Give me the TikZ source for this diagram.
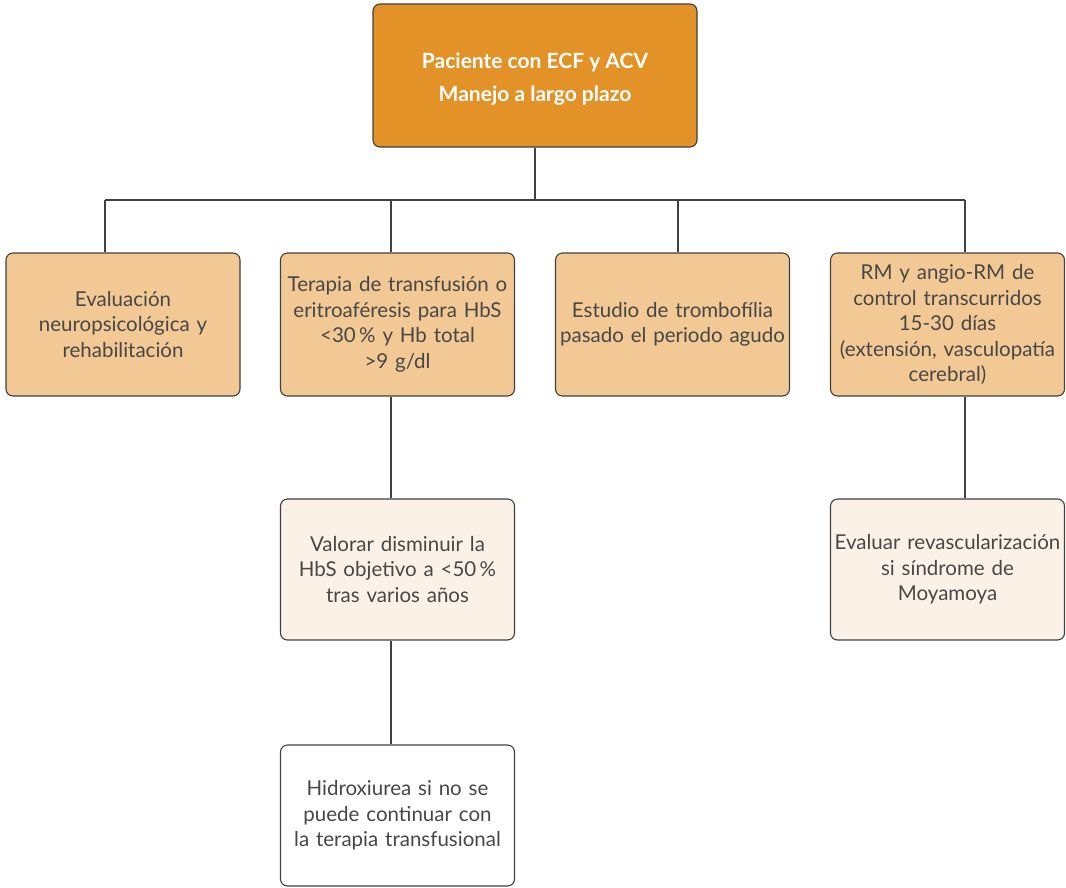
\documentclass[tikz,border=0pt]{standalone}
\usepackage{fontspec}
\setmainfont{Lato}
\begin{document}
\begin{tikzpicture}[x=1pt,y=-1pt,
  boxbase/.style={draw=black!75, line width=1.1pt, rounded corners=7pt, align=center,
    text=black!72, font=\fontsize{20.5}{25.5}\selectfont, inner sep=3pt},
  headbox/.style={boxbase, fill=headorange, minimum width=324pt, minimum height=143pt},
  headtext/.style={text=white, align=center, yshift=-4pt,
    font=\bfseries\fontsize{21}{33}\selectfont},
  lvlone/.style={boxbase, fill=lightorange, minimum width=234pt, minimum height=143pt, text width=228pt},
  lvltwo/.style={boxbase, fill=paleorange, minimum width=234pt, minimum height=141pt, text width=228pt},
  lvlthree/.style={boxbase, fill=white, minimum width=234pt, minimum height=141pt, text width=228pt},
  link/.style={draw=black!75, line width=1.1pt}]
\definecolor{headorange}{HTML}{E29227}
\definecolor{lightorange}{HTML}{F2C994}
\definecolor{paleorange}{HTML}{FCF1E7}
\useasboundingbox (0,0) rectangle (1066,887);

\node[headbox, label={[headtext]center:{Paciente con ECF y ACV\\Manejo a largo plazo}}] (top) at (535,75.5) {};

\node[lvlone] (eval) at (123,324.5) {Evaluación\\neuropsicológica y\\rehabilitación};
\node[lvlone] (trans) at (397.5,324.5) {Terapia de transfusión o\\eritroaféresis para HbS\\<30\,\% y Hb total\\>9 g/dl\\[20pt]};
\node[lvlone] (tromb) at (672.5,324.5) {Estudio de trombofília\\pasado el periodo agudo};
\node[lvlone] (rm) at (947.5,324.5) {RM y angio-RM de\\control transcurridos\\15-30 días\\(extensión, vasculopatía\\cerebral)};

\node[lvltwo] (hbs) at (397.5,569.5) {Valorar disminuir la\\HbS objetivo a <50\,\%\\tras varios años};
\node[lvltwo] (moya) at (947.5,569.5) {Evaluar revascularización\\si síndrome de\\Moyamoya};

\node[lvlthree] (hidrox) at (397.5,815.5) {Hidroxiurea si no se\\puede continuar con\\la terapia transfusional};

% bus below the head box
\coordinate (busl) at (105,200);
\coordinate (busr) at (965,200);
\coordinate (dtwo) at (391,200);
\coordinate (dthree) at (678,200);
\draw[link] (top.south) -- (top.south |- busl);
\draw[link] (busl) -- (busr);
\draw[link] (busl) -- (busl |- eval.north);
\draw[link] (dtwo) -- (dtwo |- trans.north);
\draw[link] (dthree) -- (dthree |- tromb.north);
\draw[link] (busr) -- (busr |- rm.north);

% vertical chains
\draw[link] (dtwo |- trans.south) -- (dtwo |- hbs.north);
\draw[link] (dtwo |- hbs.south) -- (dtwo |- hidrox.north);
\draw[link] (busr |- rm.south) -- (busr |- moya.north);
\end{tikzpicture}
\end{document}
